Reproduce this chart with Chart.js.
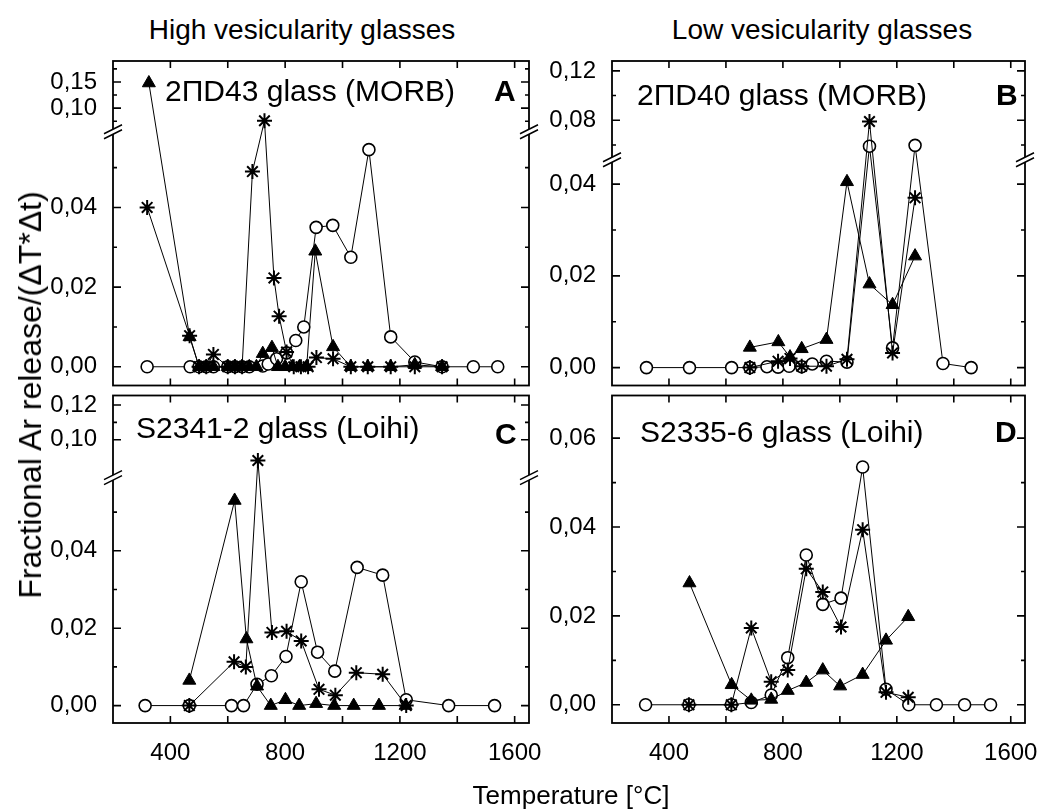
<!DOCTYPE html>
<html>
<head>
<meta charset="utf-8">
<script src="https://cdn.jsdelivr.net/npm/chart.js@4.4.1/dist/chart.umd.min.js"></script>
<style>
  body { margin: 0; background: #fff; width: 1039px; height: 812px; position: relative; overflow: hidden;
         font-family: "Liberation Sans", Arial, Helvetica, sans-serif; color: #000; }
  canvas { position: absolute; }
  .t { position: absolute; white-space: nowrap; line-height: 1; transform: translate(-50%, -50%); }
  .l { position: absolute; white-space: nowrap; line-height: 1; transform: translateY(-50%); font-size: 30px; }
  .b { font-weight: bold; }
</style>
</head>
<body>
<canvas id="cA" width="545" height="345" style="left:0;top:50px"></canvas>
<canvas id="cB" width="494" height="345" style="left:545px;top:50px"></canvas>
<canvas id="cC" width="545" height="400" style="left:0;top:386px"></canvas>
<canvas id="cD" width="494" height="400" style="left:545px;top:386px"></canvas>

<div class="t" style="left:302px;top:30px;font-size:28px">High vesicularity glasses</div>
<div class="t" style="left:822px;top:30px;font-size:28px">Low vesicularity glasses</div>
<div class="t" style="left:30px;top:395px;font-size:32px;transform:translate(-50%,-50%) rotate(-90deg)">Fractional Ar release/(ΔT*Δt)</div>
<div class="t" style="left:571px;top:795px;font-size:26px">Temperature [°C]</div>

<div class="l" style="left:165px;top:91px">2ΠD43 glass (MORB)</div>
<div class="l b" style="left:494px;top:91px">A</div>
<div class="l" style="left:637px;top:95px">2ΠD40 glass (MORB)</div>
<div class="l b" style="left:996px;top:95px">B</div>
<div class="l" style="left:136px;top:428px">S2341-2 glass (Loihi)</div>
<div class="l b" style="left:495px;top:434px">C</div>
<div class="l" style="left:640px;top:432px">S2335-6 glass (Loihi)</div>
<div class="l b" style="left:995px;top:432px">D</div>

<script>
// ---- data (temperature in °C, fractional Ar release) ----
// A: 2ΠD43 glass (MORB)
const tA_tri  = [325, 467, 500, 525, 550, 600, 625, 650, 675, 700, 722, 754, 775, 800, 825, 850, 875, 905, 967, 1029, 1088, 1168, 1252, 1347];
const fA_tri  = [0.148, 0.0075, 0, 0, 0, 0, 0, 0, 0, 0, 0.0033, 0.0048, 0, 0, 0, 0, 0, 0.029, 0.005, 0, 0, 0, 0.0005, 0];
const tA_star = [319, 467, 500, 525, 550, 600, 625, 650, 686, 728, 761, 779, 805, 830, 855, 880, 909, 967, 1029, 1088, 1168, 1252, 1347];
const fA_star = [0.040, 0.0078, 0, 0, 0.0031, 0, 0, 0, 0.049, 0.076, 0.0223, 0.0127, 0.0037, 0, 0, 0, 0.0023, 0.002, 0, 0, 0, 0, 0];
const tA_circ = [319, 469, 500, 525, 550, 600, 625, 650, 675, 722, 741, 770, 805, 837, 865, 908, 966, 1029, 1092, 1168, 1252, 1347, 1456, 1541];
const fA_circ = [0, 0, 0, 0, 0, 0, 0, 0, 0, 0.0002, 0.0007, 0.002, 0.0035, 0.0066, 0.010, 0.035, 0.0355, 0.0275, 0.0545, 0.0075, 0.0012, 0, 0, 0];

// B: 2ΠD40 glass (MORB)
const tB_tri  = [684, 784, 825, 866, 953, 1025, 1104, 1185, 1264];
const fB_tri  = [0.0044, 0.0056, 0.0023, 0.0041, 0.0061, 0.0405, 0.0182, 0.0137, 0.0243];
const tB_star = [684, 783, 825, 866, 953, 1025, 1104, 1185, 1264];
const fB_star = [0, 0.0014, 0.002, 0.0003, 0.0003, 0.0018, 0.079, 0.0032, 0.037];
const tB_circ = [321, 472, 620, 684, 744, 783, 822, 866, 903, 953, 1025, 1104, 1185, 1264, 1362, 1461];
const fB_circ = [0, 0, 0, 0, 0.0002, 0.0001, 0.0003, 0.0002, 0.0008, 0.0014, 0.0012, 0.059, 0.0043, 0.0597, 0.0009, 0];

// C: S2341-2 glass (Loihi)
const tC_tri  = [466, 624, 665, 702, 750, 801, 849, 908, 971, 1039, 1127, 1220];
const fC_tri  = [0.0065, 0.053, 0.0172, 0.005, 0, 0.0015, 0, 0.0005, 0, 0, 0, 0];
const tC_star = [466, 622, 663, 705, 754, 805, 856, 918, 975, 1048, 1140, 1222];
const fC_star = [0, 0.0113, 0.010, 0.088, 0.0189, 0.0192, 0.0167, 0.0042, 0.0027, 0.0085, 0.0081, 0];
const tC_circ = [312, 466, 613, 655, 702, 752, 803, 856, 913, 973, 1051, 1140, 1222, 1370, 1530];
const fC_circ = [0, 0, 0, 0, 0.0055, 0.0077, 0.0127, 0.032, 0.0138, 0.0089, 0.0357, 0.0337, 0.0015, 0, 0];

// D: S2335-6 glass (Loihi)
const tD_tri  = [472, 620, 689, 759, 817, 882, 940, 1001, 1080, 1162, 1240];
const fD_tri  = [0.0274, 0.0045, 0.001, 0.0012, 0.0032, 0.005, 0.0078, 0.0042, 0.0068, 0.0145, 0.0198];
const tD_star = [470, 619, 689, 759, 817, 882, 940, 1004, 1080, 1162, 1240];
const fD_star = [0, 0, 0.0173, 0.0052, 0.0078, 0.0306, 0.0254, 0.0175, 0.0394, 0.0028, 0.0017];
const tD_circ = [318, 470, 619, 689, 759, 817, 882, 940, 1004, 1080, 1162, 1242, 1339, 1438, 1529];
const fD_circ = [0, 0, 0, 0.0005, 0.0022, 0.0106, 0.0337, 0.0226, 0.024, 0.0535, 0.0035, 0, 0, 0, 0];

// tick labels
const xLabels = [400, 800, 1200, 1600];
const xMarks = [400, 600, 800, 1000, 1200, 1400, 1600];
const yMajA = [0, 0.02, 0.04, 0.10, 0.15], yMinA = [0.01, 0.03, 0.05, 0.075, 0.125, 0.175];
const yMajB = [0, 0.02, 0.04, 0.08, 0.12], yMinB = [0.01, 0.03, 0.06, 0.10];
const yMajC = [0, 0.02, 0.04, 0.10, 0.12], yMinC = [0.01, 0.03, 0.05, 0.11];
const yMajD = [0, 0.02, 0.04, 0.06],       yMinD = [0.01, 0.03, 0.05];

const FONT = '"Liberation Sans", Arial, Helvetica, sans-serif';

// broken y axis: lower part [lo, brk.low] takes brk.frac of the height, upper part [brk.high, hi] the rest
function makeMap(lo, hi, brk) {
  return v => {
    if (!brk) return (v - lo) / (hi - lo);
    if (v <= brk.low) return (v - lo) / (brk.low - lo) * brk.frac;
    return brk.frac + (v - brk.high) / (hi - brk.high) * (1 - brk.frac);
  };
}

const fmt = v => v.toFixed(2).replace('.', ',');

const framePlugin = {
  id: 'frame',
  afterDraw(chart, args, o) {
    const { ctx, chartArea: a, scales: { x, y } } = chart;
    ctx.save();
    ctx.strokeStyle = '#000';
    ctx.lineWidth = 1.8;
    ctx.strokeRect(a.left, a.top, a.right - a.left, a.bottom - a.top);
    ctx.lineWidth = 1.6;
    ctx.beginPath();
    xMarks.forEach(t => {
      const px = x.getPixelForValue(t);
      ctx.moveTo(px, a.bottom); ctx.lineTo(px, a.bottom - 7);
      ctx.moveTo(px, a.top); ctx.lineTo(px, a.top + 7);
    });
    o.major.forEach(v => {
      const py = y.getPixelForValue(o.map(v));
      ctx.moveTo(a.left, py); ctx.lineTo(a.left + 8, py);
      ctx.moveTo(a.right, py); ctx.lineTo(a.right - 8, py);
    });
    o.minor.forEach(v => {
      const py = y.getPixelForValue(o.map(v));
      ctx.moveTo(a.left, py); ctx.lineTo(a.left + 4, py);
      ctx.moveTo(a.right, py); ctx.lineTo(a.right - 4, py);
    });
    ctx.stroke();
    if (o.brk) {
      const cy = y.getPixelForValue(o.brk.frac);
      [a.left, a.right].forEach(cx => {
        const g = 2.5, dx = 9, dy = 4.5;
        ctx.fillStyle = '#fff';
        ctx.beginPath();
        ctx.moveTo(cx - dx, cy - g + dy); ctx.lineTo(cx + dx, cy - g - dy);
        ctx.lineTo(cx + dx, cy + g - dy); ctx.lineTo(cx - dx, cy + g + dy);
        ctx.closePath(); ctx.fill();
        ctx.lineWidth = 1.5;
        ctx.beginPath();
        ctx.moveTo(cx - dx, cy - g + dy); ctx.lineTo(cx + dx, cy - g - dy);
        ctx.moveTo(cx - dx, cy + g + dy); ctx.lineTo(cx + dx, cy + g - dy);
        ctx.stroke();
      });
    }
    ctx.restore();
  }
};

function series(ts, fs, map, kind) {
  const base = {
    data: ts.map((t, i) => ({ x: t, y: map(fs[i]) })),
    showLine: true, borderColor: '#000', borderWidth: 1, pointBorderColor: '#000'
  };
  if (kind === 'tri') return Object.assign(base, { pointStyle: 'triangle', pointRadius: 7.5, pointBackgroundColor: '#000', pointBorderWidth: 1 });
  if (kind === 'star') return Object.assign(base, { pointStyle: 'star', pointRadius: 7.5, pointBorderWidth: 2, pointBackgroundColor: '#000' });
  return Object.assign(base, { pointStyle: 'circle', pointRadius: 6, pointBackgroundColor: '#fff', pointBorderWidth: 1.6 });
}

function makePanel(id, geo, lo, hi, brk, major, minor, tri, star, circ) {
  const map = makeMap(lo, hi, brk);
  const xh = geo.xLabels ? 45 : 0;
  new Chart(document.getElementById(id), {
    type: 'scatter',
    data: {
      datasets: [
        series(tri[0], tri[1], map, 'tri'),
        series(star[0], star[1], map, 'star'),
        series(circ[0], circ[1], map, 'circ')
      ]
    },
    options: {
      responsive: false,
      animation: false,
      devicePixelRatio: 1,
      layout: { padding: { left: 0, top: geo.area.t - geo.top, right: geo.left + geo.w - geo.area.r, bottom: geo.top + geo.h - geo.area.b - xh } },
      plugins: {
        legend: { display: false },
        tooltip: { enabled: false },
        frame: { major, minor, map, brk }
      },
      scales: {
        x: {
          type: 'linear', min: 200, max: 1650, display: !!geo.xLabels,
          grid: { display: false }, border: { display: false },
          ticks: { padding: 8, color: '#000', font: { size: 24, family: FONT }, autoSkip: false, maxRotation: 0, callback: v => String(v) },
          afterBuildTicks: s => { s.ticks = xLabels.map(v => ({ value: v })); },
          afterFit: s => { s.height = xh; s.paddingLeft = 0; s.paddingRight = 0; }
        },
        y: {
          type: 'linear', min: 0, max: 1,
          grid: { display: false }, border: { display: false },
          ticks: { padding: 8, color: '#000', font: { size: 24, family: FONT }, autoSkip: false, callback: (v, i, t) => t[i].lbl },
          afterBuildTicks: s => { s.ticks = major.map(m => ({ value: map(m), lbl: fmt(m) })); },
          afterFit: s => { s.width = geo.area.l - geo.left; s.paddingTop = 0; s.paddingBottom = 0; }
        }
      }
    },
    plugins: [framePlugin]
  });
}

makePanel('cA', { left: 0, top: 50, w: 545, h: 345, area: { l: 113, t: 61, r: 529, b: 391 } },
  -0.0047, 0.19, { low: 0.059, high: 0.055, frac: 0.782 }, yMajA, yMinA,
  [tA_tri, fA_tri], [tA_star, fA_star], [tA_circ, fA_circ]);
makePanel('cB', { left: 545, top: 50, w: 494, h: 345, area: { l: 612, t: 61, r: 1025, b: 392 } },
  -0.0039, 0.128, { low: 0.0453, high: 0.048, frac: 0.6956 }, yMajB, yMinB,
  [tB_tri, fB_tri], [tB_star, fB_star], [tB_circ, fB_circ]);
makePanel('cC', { left: 0, top: 386, w: 545, h: 400, area: { l: 113, t: 392, r: 529, b: 723 }, xLabels: true },
  -0.0045, 0.1255, { low: 0.0589, high: 0.0781, frac: 0.7492 }, yMajC, yMinC,
  [tC_tri, fC_tri], [tC_star, fC_star], [tC_circ, fC_circ]);
makePanel('cD', { left: 545, top: 386, w: 494, h: 400, area: { l: 612, t: 392, r: 1025, b: 723 }, xLabels: true },
  -0.0041, 0.0696, null, yMajD, yMinD,
  [tD_tri, fD_tri], [tD_star, fD_star], [tD_circ, fD_circ]);
</script>
</body>
</html>
